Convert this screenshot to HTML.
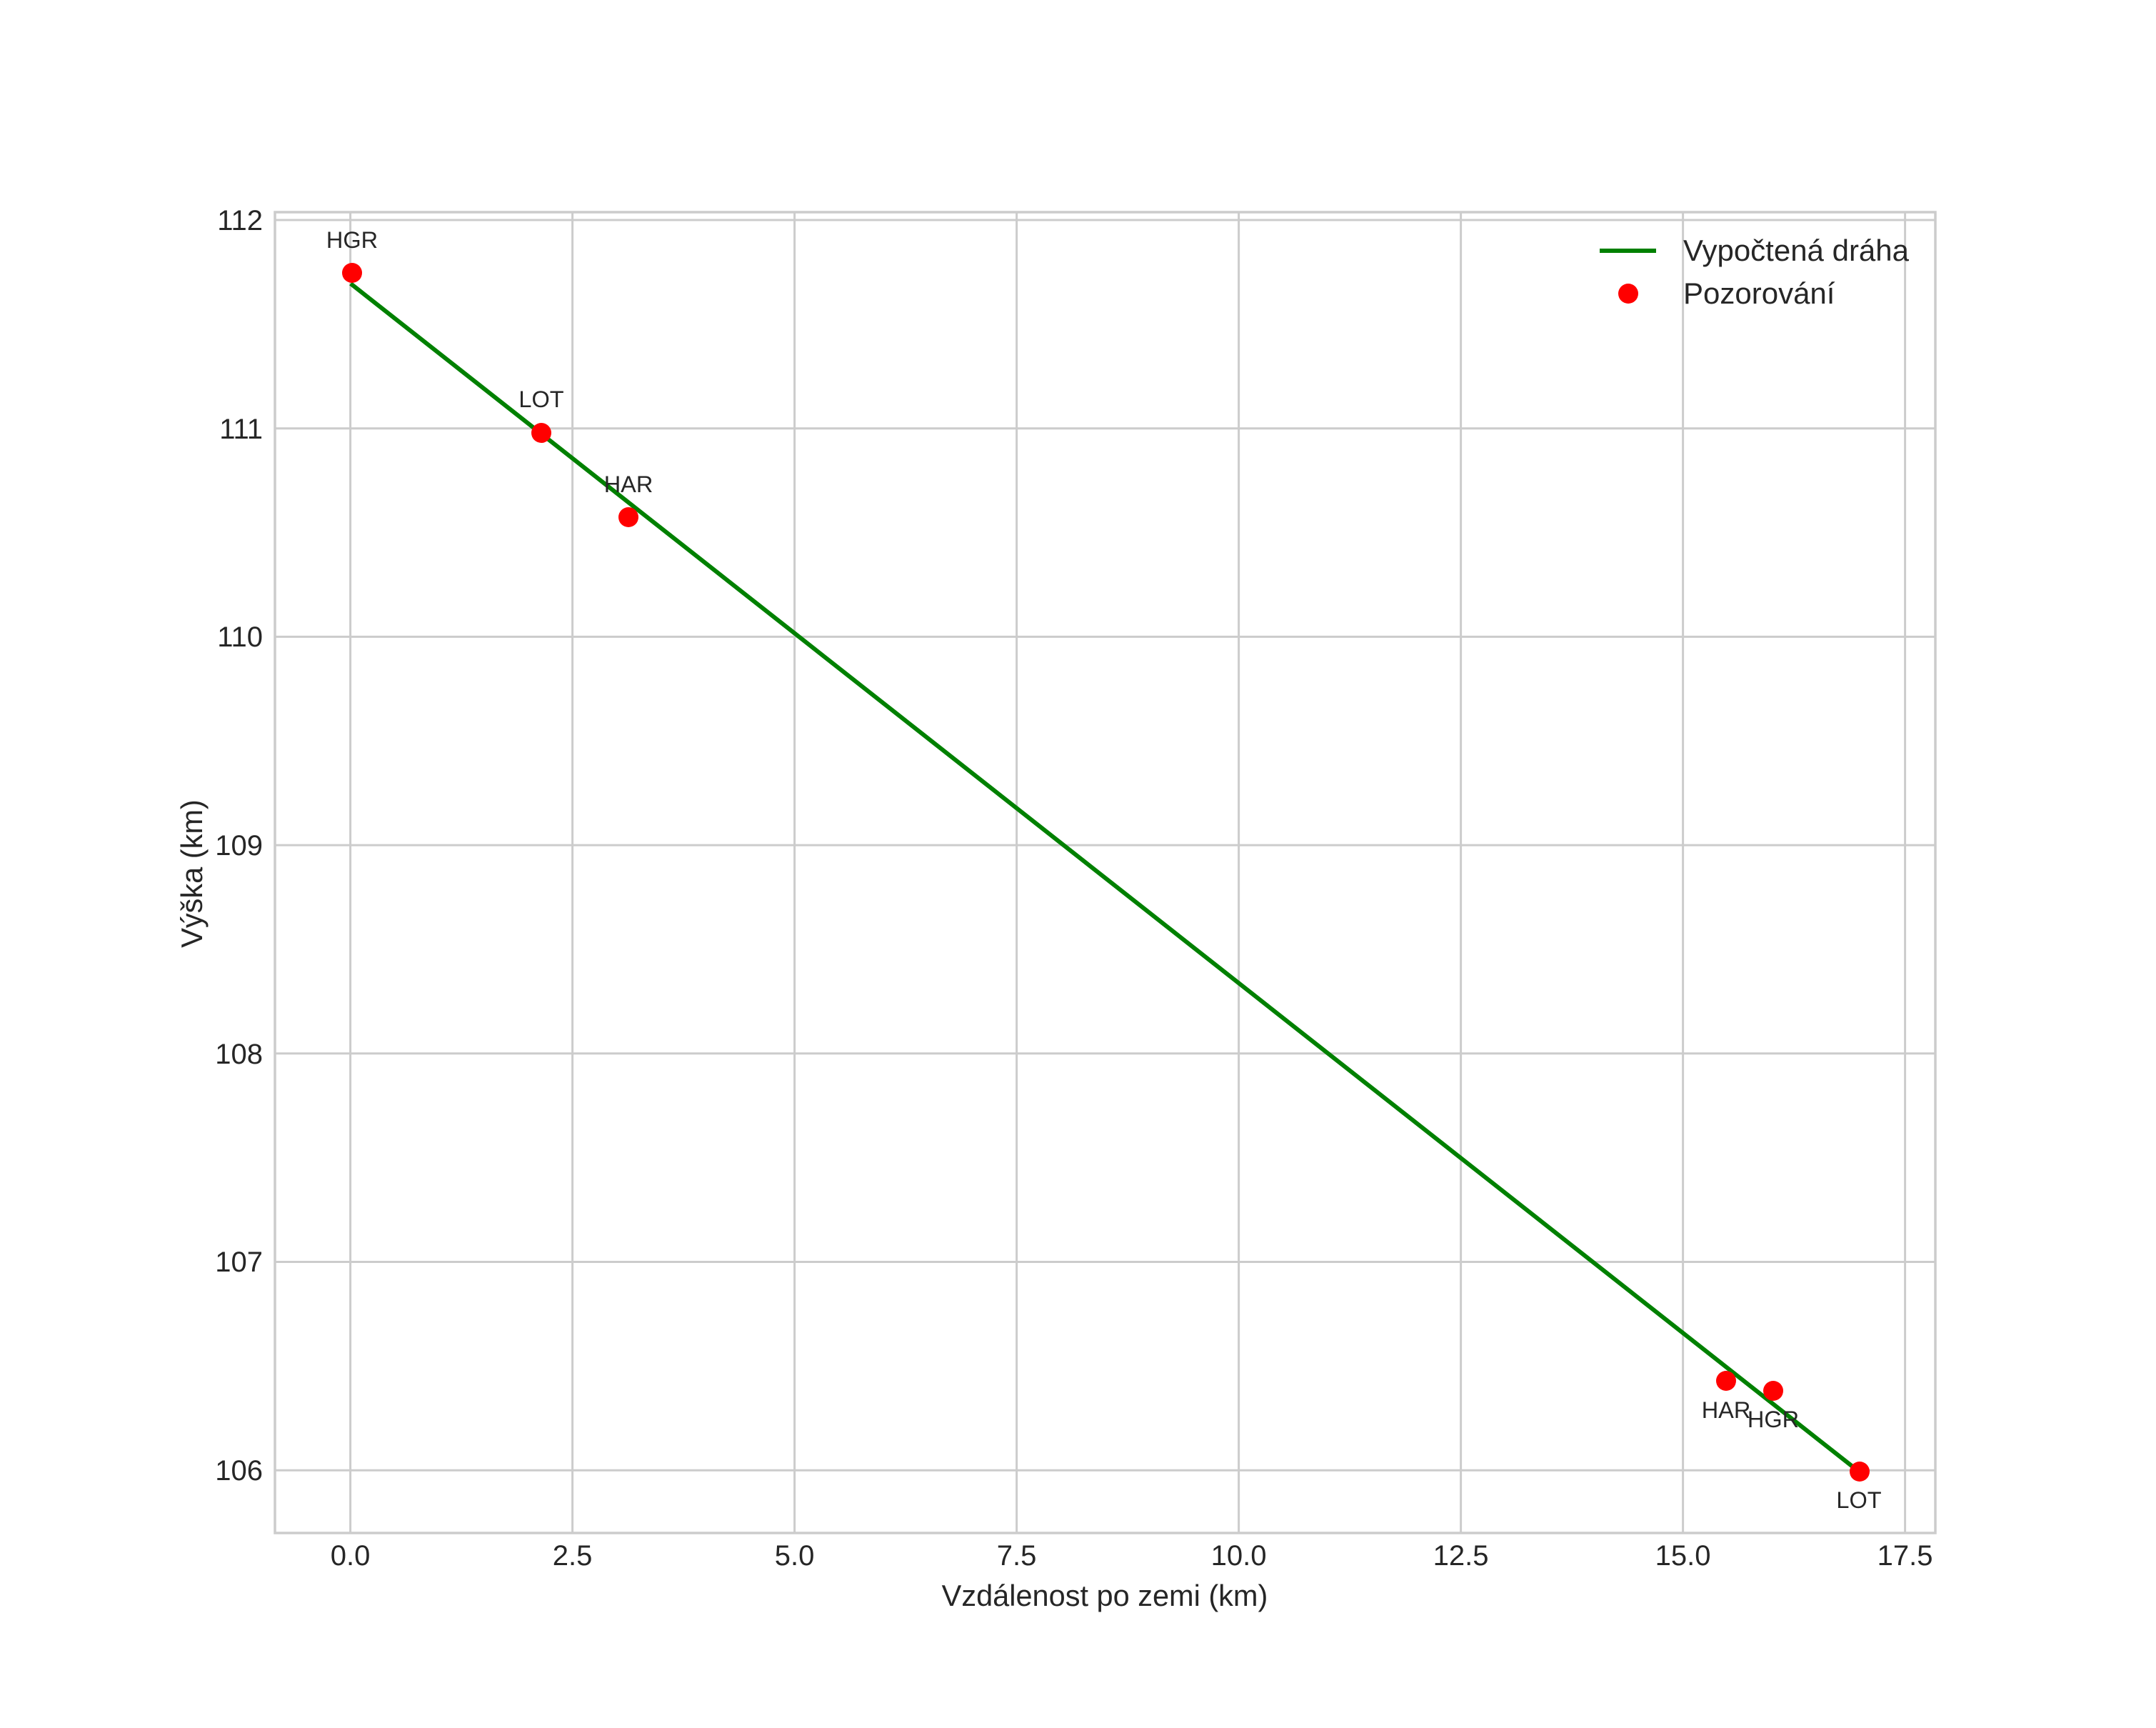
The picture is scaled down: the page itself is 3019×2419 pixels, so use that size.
<!DOCTYPE html>
<html><head><meta charset="utf-8"><style>
html,body{margin:0;padding:0;background:#fff;}
svg{display:block;}
text{font-family:"Liberation Sans",sans-serif;fill:#262626;}
</style></head><body>
<svg width="3019" height="2419" viewBox="0 0 3019 2419" xmlns="http://www.w3.org/2000/svg">
<rect width="3019" height="2419" fill="#fff"/>
<g stroke="#cccccc" stroke-width="3">
<line x1="490.6" y1="297" x2="490.6" y2="2146"/>
<line x1="801.6" y1="297" x2="801.6" y2="2146"/>
<line x1="1112.6" y1="297" x2="1112.6" y2="2146"/>
<line x1="1423.6" y1="297" x2="1423.6" y2="2146"/>
<line x1="1734.6" y1="297" x2="1734.6" y2="2146"/>
<line x1="2045.6" y1="297" x2="2045.6" y2="2146"/>
<line x1="2356.6" y1="297" x2="2356.6" y2="2146"/>
<line x1="2667.6" y1="297" x2="2667.6" y2="2146"/>
<line x1="385" y1="308" x2="2710" y2="308"/>
<line x1="385" y1="599.7" x2="2710" y2="599.7"/>
<line x1="385" y1="891.4" x2="2710" y2="891.4"/>
<line x1="385" y1="1183.1" x2="2710" y2="1183.1"/>
<line x1="385" y1="1474.8" x2="2710" y2="1474.8"/>
<line x1="385" y1="1766.5" x2="2710" y2="1766.5"/>
<line x1="385" y1="2058.2" x2="2710" y2="2058.2"/>
</g>
<rect x="385" y="297" width="2325" height="1849" fill="none" stroke="#cccccc" stroke-width="3.5"/>
<g font-size="40" text-anchor="middle">
<text x="490.6" y="2191">0.0</text>
<text x="801.6" y="2191">2.5</text>
<text x="1112.6" y="2191">5.0</text>
<text x="1423.6" y="2191">7.5</text>
<text x="1734.6" y="2191">10.0</text>
<text x="2045.6" y="2191">12.5</text>
<text x="2356.6" y="2191">15.0</text>
<text x="2667.6" y="2191">17.5</text>
</g>
<g font-size="40" text-anchor="end">
<text x="368" y="322">112</text>
<text x="368" y="614">111</text>
<text x="368" y="905">110</text>
<text x="368" y="1197">109</text>
<text x="368" y="1489">108</text>
<text x="368" y="1780">107</text>
<text x="368" y="2072">106</text>
</g>
<text x="1547" y="2248" font-size="41.5" text-anchor="middle">Vzdálenost po zemi (km)</text>
<text transform="translate(283,1223) rotate(-90)" font-size="41.5" text-anchor="middle">Výška (km)</text>
<line x1="491" y1="397" x2="2603" y2="2060" stroke="#008000" stroke-width="6"/>
<g fill="#ff0000">
<circle cx="493" cy="382" r="14"/>
<circle cx="758" cy="606" r="14"/>
<circle cx="880" cy="724" r="14"/>
<circle cx="2417" cy="1933" r="14"/>
<circle cx="2483" cy="1947" r="14"/>
<circle cx="2604" cy="2060" r="14"/>
</g>
<g font-size="32.5" text-anchor="middle">
<text x="493" y="347">HGR</text>
<text x="758" y="570">LOT</text>
<text x="880" y="689">HAR</text>
<text x="2417" y="1985">HAR</text>
<text x="2483" y="1998">HGR</text>
<text x="2603" y="2111">LOT</text>
</g>
<line x1="2240" y1="351" x2="2319" y2="351" stroke="#008000" stroke-width="6"/>
<circle cx="2280" cy="411" r="14" fill="#ff0000"/>
<text x="2357" y="365" font-size="42">Vypočtená dráha</text>
<text x="2357" y="425" font-size="42">Pozorování</text>
</svg>
</body></html>
